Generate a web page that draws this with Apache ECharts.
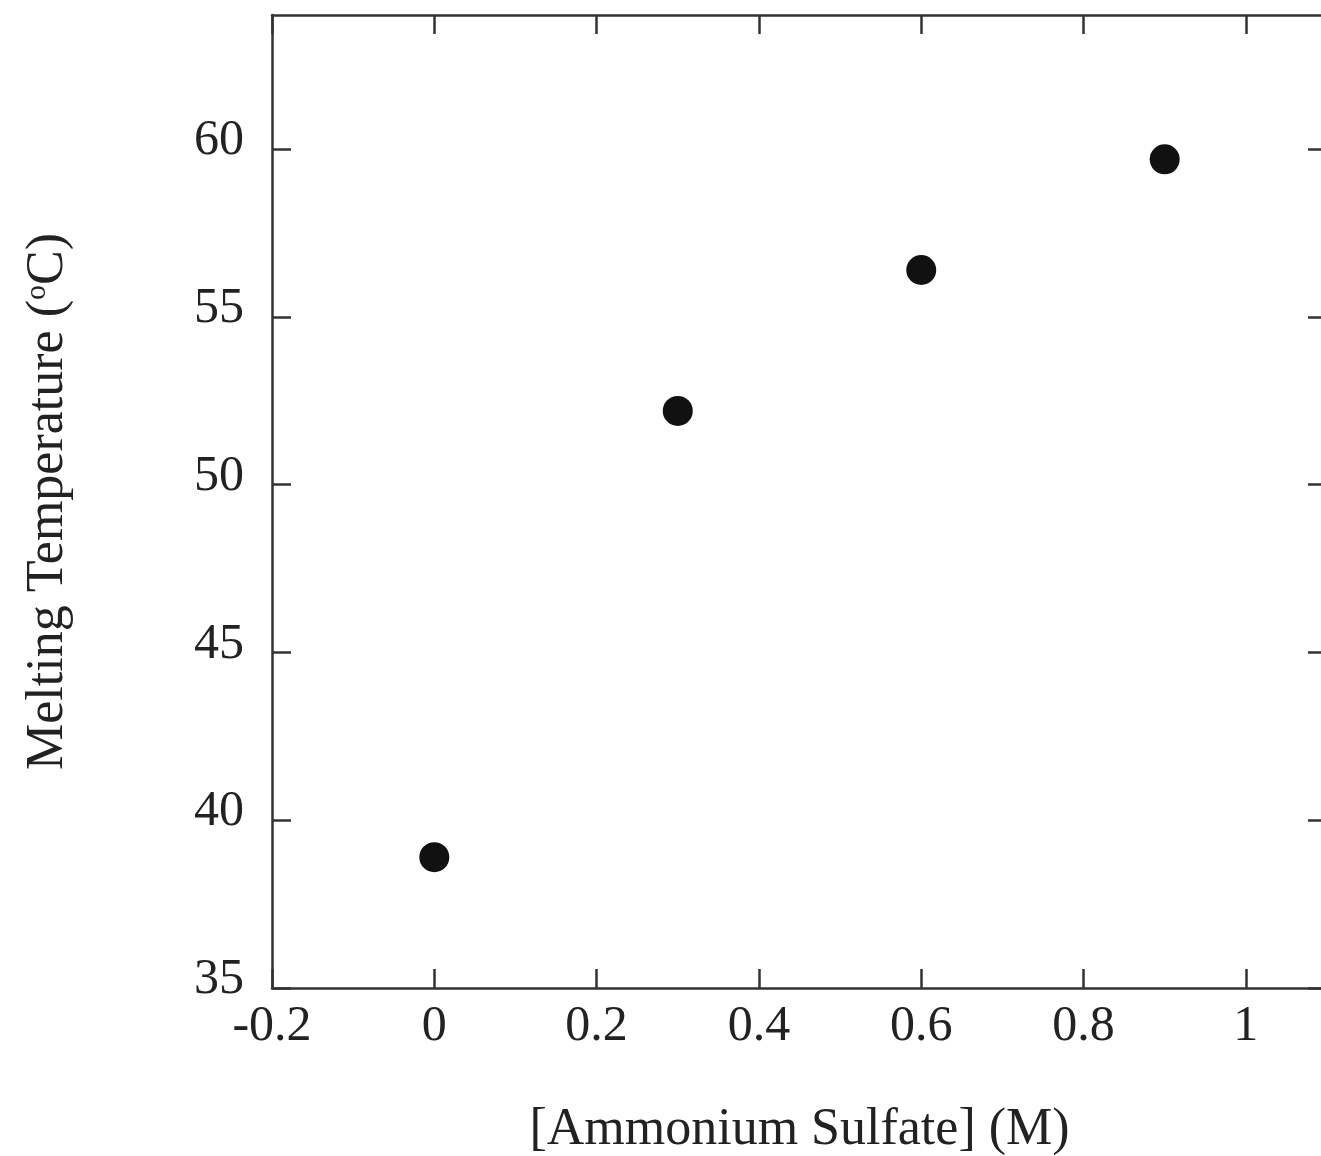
<!DOCTYPE html>
<html>
<head>
<meta charset="utf-8">
<script src="https://cdn.jsdelivr.net/npm/echarts@6/dist/echarts.min.js"></script>
<style>
  html, body { margin: 0; padding: 0; background: #fff; overflow: hidden; }
  #chart { width: 1330px; height: 1156px; }
</style>
</head>
<body>
<div id="chart"></div>
<script>
// salt concentration (M) vs melting temperature
const saltConc = [0, 0.3, 0.6, 0.9];
const meltTemp = [38.9, 52.2, 56.4, 59.7];
const xTicks = [-0.2, 0, 0.2, 0.4, 0.6, 0.8, 1];
const yTicks = [35, 40, 45, 50, 55, 60];

const chart = echarts.init(document.getElementById('chart'));
const font = 'Liberation Serif, Times New Roman, serif';
const lineStyle = { color: '#333', width: 2.5 };

const baseX = {
  type: 'value',
  min: -0.2,
  max: 1.1,
  axisLine: { show: true, onZero: false, lineStyle: lineStyle },
  axisTick: { show: true, inside: true, length: 19, lineStyle: lineStyle, customValues: xTicks },
  splitLine: { show: false },
};
const baseY = {
  type: 'value',
  min: 35,
  max: 64,
  axisLine: { show: true, onZero: false, lineStyle: lineStyle },
  axisTick: { show: true, inside: true, length: 19, lineStyle: lineStyle, customValues: yTicks },
  splitLine: { show: false },
};

chart.setOption({
  animation: false,
  backgroundColor: '#fff',
  grid: { left: 272, top: 15, right: 3, bottom: 168, outerBoundsMode: 'none', containLabel: false },
  xAxis: [
    Object.assign({}, baseX, {
      position: 'bottom',
      name: '[Ammonium Sulfate] (M)',
      nameLocation: 'middle',
      nameGap: 116,
      nameTextStyle: { fontFamily: font, fontSize: 52, color: '#222' },
      axisLabel: {
        customValues: xTicks,
        margin: 14,
        fontFamily: font, fontSize: 50, color: '#222',
        formatter: v => String(v),
      },
    }),
    Object.assign({}, baseX, { position: 'top', axisLabel: { show: false } }),
  ],
  yAxis: [
    Object.assign({}, baseY, {
      position: 'left',
      name: '{t|Melting Temperature (}{s|o}{t|C)}',
      nameLocation: 'middle',
      nameGap: 198,
      nameTextStyle: {
        fontFamily: font, fontSize: 52, color: '#222',
        rich: {
          t: { fontFamily: font, fontSize: 52, color: '#222' },
          s: { fontFamily: font, fontSize: 30, color: '#222', verticalAlign: 'top', padding: [0, 0, 22, 0] },
        },
      },
      axisLabel: {
        customValues: yTicks,
        margin: 28,
        formatter: v => '{n|' + v + '}',
        rich: {
          n: { fontFamily: font, fontSize: 50, color: '#222', padding: [0, 0, 16, 0] },
        },
      },
    }),
    Object.assign({}, baseY, { position: 'right', axisLabel: { show: false } }),
  ],
  series: [{
    type: 'scatter',
    data: saltConc.map((x, i) => [x, meltTemp[i]]),
    symbol: 'circle',
    symbolSize: 30,
    itemStyle: { color: '#111', opacity: 1 },
  }],
});
</script>
</body>
</html>
